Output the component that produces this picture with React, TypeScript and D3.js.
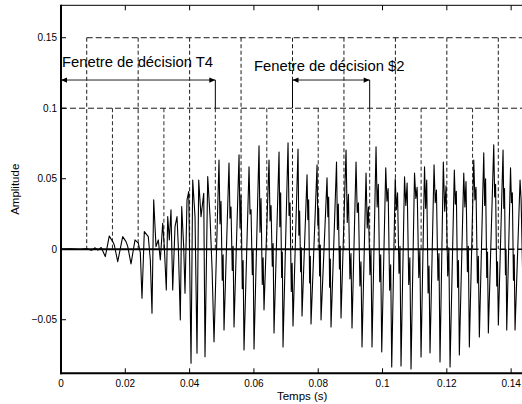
import React from 'react';
import * as d3 from 'd3';

const W = 522;
const H = 404;

const xDomain = [0, 0.15];
const yDomain = [-0.088, 0.173];
const xTicks = [0, 0.02, 0.04, 0.06, 0.08, 0.1, 0.12, 0.14];
const xTickLabels = ['0', '0.02', '0.04', '0.06', '0.08', '0.1', '0.12', '0.14'];
const yTicks = [-0.05, 0, 0.05, 0.1, 0.15];
const yTickLabels = ['\u22120.05', '0', '0.05', '0.1', '0.15'];

const tallWindowStarts = [0.008, 0.024, 0.04, 0.056, 0.072, 0.088, 0.104, 0.12, 0.136];
const shortWindowStarts = [0, 0.016, 0.032, 0.048, 0.064, 0.08, 0.096, 0.112, 0.128];
const tallLevel = 0.15;
const shortLevel = 0.1;
const zeroSolidEnd = 0.128;

const windowLabels = ['Fenetre de décision T4', 'Fenetre de décision $2'];
const windowStart = [0, 0.072];
const windowEnd = [0.048, 0.096];
const windowLevel = [0.12, 0.12];
const labelT = [0.0003, 0.06];
const labelV = [0.129, 0.1265];

const onsetT = [
  0, 0.003, 0.006, 0.008, 0.0095, 0.0105, 0.0115, 0.0125, 0.01378, 0.01502,
  0.01608, 0.01658, 0.01764, 0.01919, 0.02022, 0.02075, 0.02177, 0.02302, 0.02404, 0.02467,
  0.02519, 0.02591, 0.02715, 0.02778, 0.0283, 0.02883, 0.02955, 0.03026, 0.03089, 0.03163,
  0.03213, 0.03275, 0.03319, 0.03369, 0.03421, 0.03474, 0.03546, 0.03608, 0.03649, 0.03711,
  0.03754, 0.03816, 0.03857, 0.03919, 0.03972, 0.04044, 0.04096, 0.04168, 0.0423, 0.04283,
  0.04355, 0.04439, 0.04479, 0.04563, 0.04635, 0.047,
];
const onsetA = [
  0, 0.0003, -0.0002, 0.0004, -0.0008, 0.001, -0.0006, 0.0012, -0.0052, 0.0094,
  0.0054, 0.003, -0.0088, 0.0089, 0.0054, 0.002, -0.0104, 0.0066, 0.0043, -0.0024,
  -0.0348, 0.0125, 0.0089, -0.0076, -0.0454, 0.035, 0.0018, 0.0066, -0.0076, 0.0184,
  0.0018, -0.0289, 0.0231, 0.0066, 0.0279, -0.0289, 0.016, 0.0231, 0.0018, -0.0501,
  0.0302, 0.0018, -0.0312, 0.035, 0.0409, -0.0809, 0.0491, 0.0231, -0.0738, 0.0491,
  0.0231, 0.0397, -0.0762, 0.0515, 0.0231, -0.015,
];

const bodyT = [
  0.04759, 0.04914, 0.04945, 0.04976, 0.05015, 0.05042,
  0.0507, 0.05225, 0.05256, 0.05287, 0.05326, 0.05353,
  0.05381, 0.05537, 0.05568, 0.05599, 0.05638, 0.05664,
  0.05692, 0.05848, 0.05879, 0.0591, 0.05949, 0.05975,
  0.06003, 0.06159, 0.0619, 0.06221, 0.0626, 0.06286,
  0.06314, 0.0647, 0.06501, 0.06532, 0.06571, 0.06597,
  0.06625, 0.06781, 0.06806, 0.06831, 0.06862, 0.06883,
  0.06905, 0.07061, 0.07092, 0.07123, 0.07162, 0.07188,
  0.07216, 0.07372, 0.07397, 0.07422, 0.07453, 0.07474,
  0.07496, 0.07652, 0.07677, 0.07702, 0.07733, 0.07754,
  0.07776, 0.07963, 0.07988, 0.08013, 0.08044, 0.08065,
  0.08087, 0.08274, 0.08299, 0.08324, 0.08355, 0.08376,
  0.08398, 0.08569, 0.08597, 0.08625, 0.0866, 0.08684,
  0.08709, 0.08865, 0.08902, 0.08939, 0.08986, 0.09018,
  0.09051, 0.09176, 0.09213, 0.0925, 0.09297, 0.09329,
  0.09362, 0.09487, 0.09524, 0.09561, 0.09608, 0.0964,
  0.09673, 0.09798, 0.09833, 0.09869, 0.09913, 0.09943,
  0.09975, 0.101, 0.10137, 0.10174, 0.10221, 0.10253,
  0.10286, 0.10395, 0.10431, 0.10467, 0.10512, 0.10543,
  0.10575, 0.10684, 0.10724, 0.10765, 0.10815, 0.1085,
  0.10886, 0.10995, 0.11036, 0.11076, 0.11127, 0.11161,
  0.11198, 0.11306, 0.1134, 0.11374, 0.11417, 0.11446,
  0.11477, 0.11602, 0.11639, 0.11676, 0.11723, 0.11755,
  0.11788, 0.11891, 0.11933, 0.11975, 0.12027, 0.12062,
  0.121, 0.12233, 0.12264, 0.12295, 0.12334, 0.12361,
  0.12389, 0.12526, 0.12561, 0.12596, 0.12639, 0.12669,
  0.127, 0.12837, 0.12872, 0.12907, 0.1295, 0.1298,
  0.13011, 0.13148, 0.13177, 0.13205, 0.13241, 0.13265,
  0.13291, 0.13459, 0.13488, 0.13516, 0.13552, 0.13576,
  0.13602, 0.13748, 0.13771, 0.13794, 0.13823, 0.13842,
  0.13863, 0.13981, 0.14009, 0.14037, 0.14072, 0.14096,
  0.14121, 0.14277, 0.1431, 0.1436,
];
const bodyA = [
  -0.0657, 0.0633, 0.018, 0.034, -0.022, -0.004,
  -0.0572, 0.0612, 0.022, 0.03, -0.015, 0.002,
  -0.0551, 0.0669, 0.015, 0.038, -0.028, -0.008,
  -0.0714, 0.0584, 0.025, 0.028, -0.018, 0.0,
  -0.0707, 0.0733, 0.012, 0.036, -0.025, -0.006,
  -0.043, 0.0633, 0.02, 0.031, -0.012, 0.004,
  -0.0594, 0.069, 0.016, 0.04, -0.02, -0.002,
  -0.0693, 0.0754, 0.024, 0.033, -0.03, -0.01,
  -0.0544, 0.0711, 0.01, 0.027, -0.016, 0.001,
  -0.0473, 0.0527, 0.021, 0.035, -0.024, -0.005,
  -0.053, 0.0598, 0.017, 0.029, -0.019, 0.003,
  -0.0501, 0.0506, 0.023, 0.037, -0.027, -0.007,
  -0.0551, 0.0619, 0.014, 0.032, -0.014, 0.002,
  -0.0487, 0.0704, 0.019, 0.039, -0.021, -0.003,
  -0.0558, 0.0619, 0.026, 0.033, -0.026, -0.009,
  -0.0693, 0.0541, 0.015, 0.03, -0.018, 0.0,
  -0.0693, 0.0726, 0.03, 0.046, -0.023, -0.004,
  -0.0728, 0.0577, 0.034, 0.043, -0.029, -0.011,
  -0.0835, 0.0499, 0.028, 0.04, -0.017, 0.002,
  -0.0828, 0.0513, 0.031, 0.047, -0.025, -0.006,
  -0.0849, 0.0541, 0.036, 0.044, -0.02, -0.001,
  -0.0764, 0.0584, 0.029, 0.049, -0.031, -0.012,
  -0.0735, 0.0598, 0.033, 0.042, -0.022, -0.003,
  -0.0799, 0.0619, 0.027, 0.045, -0.019, 0.001,
  -0.0835, 0.0562, 0.032, 0.041, -0.027, -0.008,
  -0.075, 0.0541, 0.03, 0.048, -0.016, 0.002,
  -0.0693, 0.0633, 0.035, 0.044, -0.024, -0.005,
  -0.0622, 0.0683, 0.031, 0.05, -0.02, -0.002,
  -0.0594, 0.074, 0.037, 0.046, -0.026, -0.009,
  -0.0537, 0.0704, 0.029, 0.043, -0.018, 0.0,
  -0.0572, 0.0577, 0.033, 0.04, -0.022, -0.004,
  -0.0572, 0.0491, 0.035, -0.02,
];

const LEFT = 61;
const RIGHT = 543.3;
const TOP = 5.3;
const BOTTOM = 373.3;
const FONT = '"Liberation Sans", Arial, Helvetica, sans-serif';

export default function App() {
  const x = d3.scaleLinear().domain(xDomain).range([LEFT, RIGHT]);
  const y = d3.scaleLinear().domain(yDomain).range([BOTTOM, TOP]);

  const signal: [number, number][] = [];
  onsetT.forEach((t, i) => signal.push([t, onsetA[i]]));
  bodyT.forEach((t, i) => signal.push([t, bodyA[i]]));
  const line = d3
    .line<[number, number]>()
    .x((d) => x(d[0]))
    .y((d) => y(d[1]));

  const tickLen = 5;
  const arrowLen = 6;
  const arrowHalf = 2.6;

  return (
    <svg
      width={W}
      height={H}
      viewBox={`0 0 ${W} ${H}`}
      style={{ position: 'absolute', left: 0, top: 0, background: '#fff' }}
    >
      <defs>
        <clipPath id="plotClip">
          <rect x={LEFT} y={TOP} width={RIGHT - LEFT} height={BOTTOM - TOP} />
        </clipPath>
      </defs>
      <rect x={0} y={0} width={W} height={H} fill="#fff" />

      <g clipPath="url(#plotClip)">
        <line
          x1={x(tallWindowStarts[0])}
          x2={RIGHT}
          y1={y(tallLevel)}
          y2={y(tallLevel)}
          stroke="#1a1a1a"
          strokeWidth={1}
          strokeDasharray="6,3"
        />
        <line
          x1={x(shortWindowStarts[0])}
          x2={RIGHT}
          y1={y(shortLevel)}
          y2={y(shortLevel)}
          stroke="#1a1a1a"
          strokeWidth={1}
          strokeDasharray="6,3"
        />
        {tallWindowStarts.map((t, i) => (
          <line
            key={'tv' + i}
            x1={x(t)}
            x2={x(t)}
            y1={y(tallLevel)}
            y2={y(0)}
            stroke="#1a1a1a"
            strokeWidth={1}
            strokeDasharray="4,2.5"
          />
        ))}
        {shortWindowStarts.map((t, i) => (
          <line
            key={'sv' + i}
            x1={x(t)}
            x2={x(t)}
            y1={y(shortLevel)}
            y2={y(0)}
            stroke="#2a2a2a"
            strokeWidth={1}
            strokeDasharray="4,2.5"
          />
        ))}

        <path d={line(signal) || ''} fill="none" stroke="#000" strokeWidth={1.1} strokeLinejoin="round" />

        <line x1={x(0)} x2={x(zeroSolidEnd)} y1={y(0)} y2={y(0)} stroke="#000" strokeWidth={2} />
        <line
          x1={x(zeroSolidEnd)}
          x2={RIGHT}
          y1={y(0)}
          y2={y(0)}
          stroke="#000"
          strokeWidth={1.5}
          strokeDasharray="6,3"
        />

        {windowStart.map((s, i) => {
          const yy = y(windowLevel[i]);
          const x1 = x(s);
          const x2 = x(windowEnd[i]);
          return (
            <g key={'w' + i}>
              <line x1={x1} x2={x2} y1={yy} y2={yy} stroke="#222" strokeWidth={1} />
              <path
                d={`M${x1},${yy} L${x1 + arrowLen},${yy - arrowHalf} L${x1 + arrowLen},${yy + arrowHalf} Z`}
                fill="#000"
              />
              <path
                d={`M${x2},${yy} L${x2 - arrowLen},${yy - arrowHalf} L${x2 - arrowLen},${yy + arrowHalf} Z`}
                fill="#000"
              />
              {s > 0 && (
                <line x1={x1} x2={x1} y1={yy} y2={y(shortLevel)} stroke="#000" strokeWidth={1} />
              )}
              <line x1={x2} x2={x2} y1={yy} y2={y(shortLevel)} stroke="#000" strokeWidth={1} />
            </g>
          );
        })}
      </g>

      {windowLabels.map((lab, i) => (
        <text
          key={'lab' + i}
          x={x(labelT[i])}
          y={y(labelV[i])}
          fontFamily={FONT}
          fontSize={14.8}
          fill="#000"
        >
          {lab}
        </text>
      ))}

      <line x1={LEFT} x2={W} y1={TOP} y2={TOP} stroke="#000" strokeWidth={1} />
      <line x1={LEFT} x2={LEFT} y1={TOP - 0.5} y2={BOTTOM + 1} stroke="#000" strokeWidth={2} />
      <line x1={LEFT - 1} x2={W} y1={BOTTOM} y2={BOTTOM} stroke="#000" strokeWidth={2} />

      {xTicks.map((t, i) => (
        <g key={'xt' + i}>
          <line x1={x(t)} x2={x(t)} y1={BOTTOM} y2={BOTTOM - tickLen} stroke="#000" strokeWidth={1} />
          <line x1={x(t)} x2={x(t)} y1={TOP} y2={TOP + tickLen} stroke="#000" strokeWidth={1} />
          <text
            x={x(t)}
            y={BOTTOM + 13.5}
            textAnchor="middle"
            fontFamily={FONT}
            fontSize={10}
            fill="#000"
          >
            {xTickLabels[i]}
          </text>
        </g>
      ))}
      {yTicks.map((v, i) => (
        <g key={'yt' + i}>
          <line x1={LEFT} x2={LEFT + tickLen} y1={y(v)} y2={y(v)} stroke="#000" strokeWidth={1} />
          <text
            x={LEFT - 4}
            y={y(v) + 3.6}
            textAnchor="end"
            fontFamily={FONT}
            fontSize={10}
            fill="#000"
          >
            {yTickLabels[i]}
          </text>
        </g>
      ))}

      <text
        x={(LEFT + RIGHT) / 2}
        y={399.5}
        textAnchor="middle"
        fontFamily={FONT}
        fontSize={11.5}
        fill="#000"
      >
        Temps (s)
      </text>
      <text
        transform={`translate(19, ${(TOP + BOTTOM) / 2}) rotate(-90)`}
        textAnchor="middle"
        fontFamily={FONT}
        fontSize={11.5}
        fill="#000"
      >
        Amplitude
      </text>
    </svg>
  );
}
